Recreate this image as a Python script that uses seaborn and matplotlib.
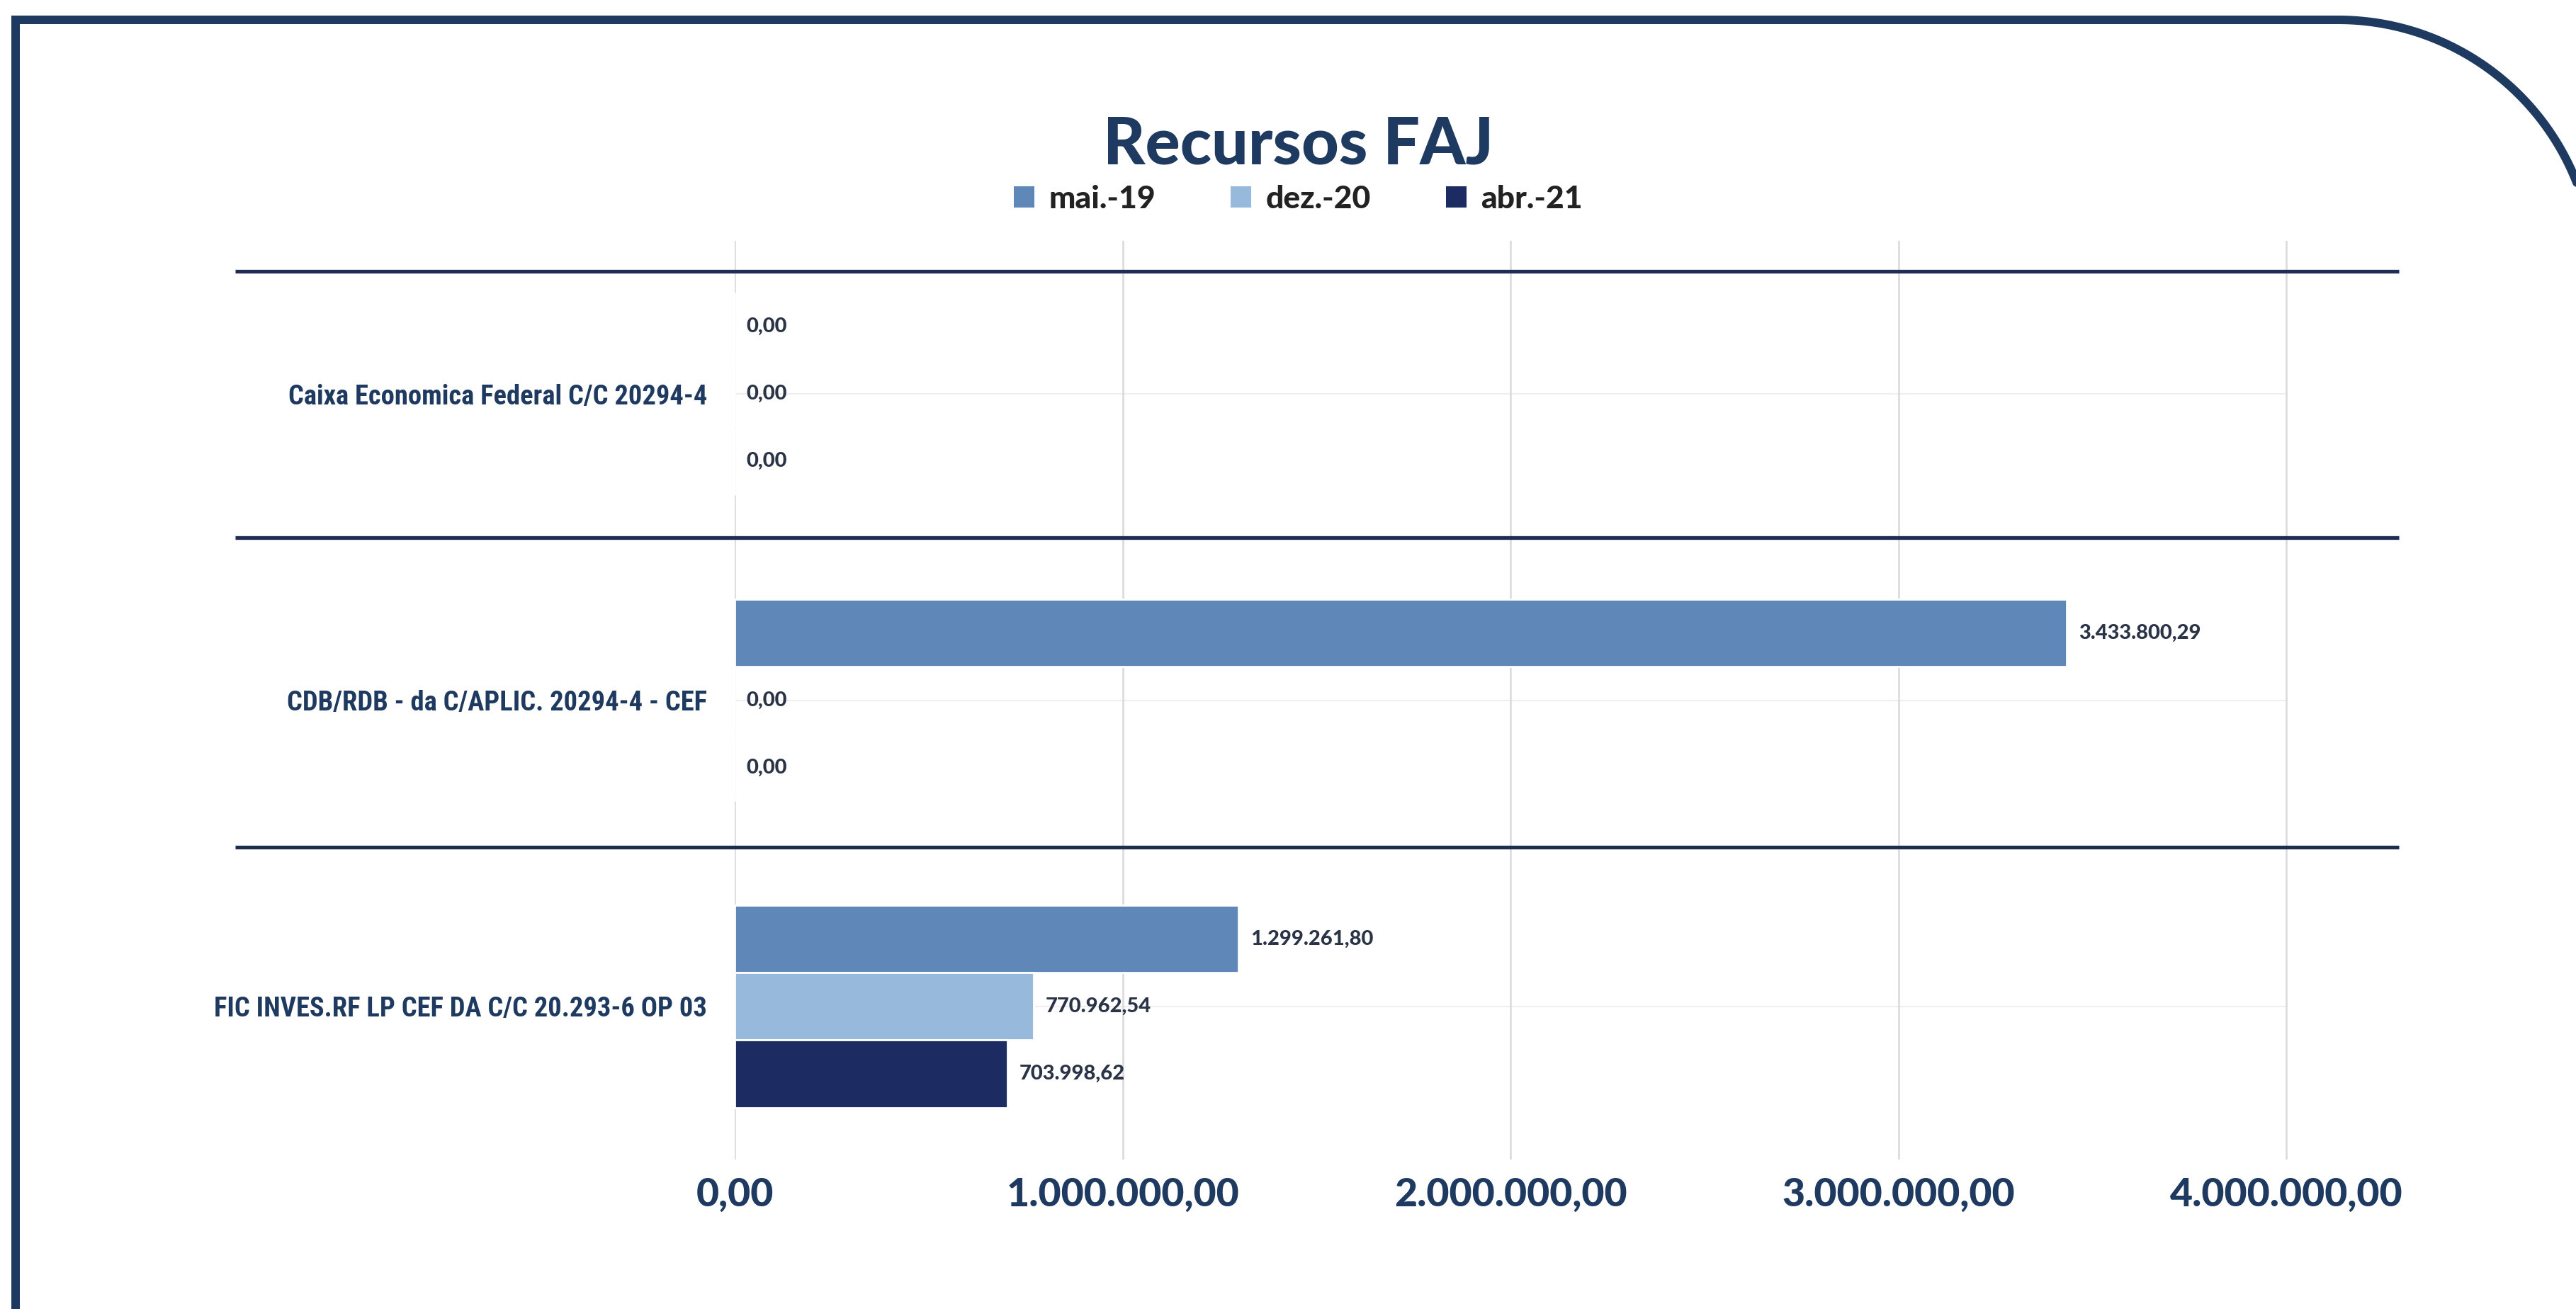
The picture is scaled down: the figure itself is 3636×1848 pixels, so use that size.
import numpy as np
import pandas as pd
import matplotlib
matplotlib.use("Agg")
import matplotlib.pyplot as plt
from matplotlib.patches import Patch
import seaborn as sns

# === Data ===
categories = ["Caixa Economica Federal C/C 20294-4",
              "CDB/RDB - da C/APLIC. 20294-4 - CEF",
              "FIC INVES.RF LP CEF DA C/C 20.293-6 OP 03"]
series = ["mai.-19", "dez.-20", "abr.-21"]
mai_19 = [0.00, 3433800.29, 1299261.80]
dez_20 = [0.00, 0.00, 770962.54]
abr_21 = [0.00, 0.00, 703998.62]
x_ticks = [0, 1000000, 2000000, 3000000, 4000000]

colors = ["#5F87B8", "#97B9DC", "#1C2C62"]
navy = "#1F3A60"
line_navy = "#1F2D55"


def br(v):
    # pt-BR number format: 1.234.567,89
    return f"{v:,.2f}".replace(",", "X").replace(".", ",").replace("X", ".")


df = pd.DataFrame({
    "categoria": categories * 3,
    "serie": np.repeat(series, 3),
    "valor": mai_19 + dez_20 + abr_21,
})

# === Figure ===
sns.set_theme(style="white")
plt.rcParams["font.family"] = ["Lato", "DejaVu Sans"]
W, H, DPI = 3636, 1848, 200
fig = plt.figure(figsize=(W / DPI, H / DPI), dpi=DPI)
fig.patch.set_facecolor("white")

ax = fig.add_axes([1037 / W, 1 - 1637 / H, (3386 - 1037) / W, (1637 - 340) / H])
sns.barplot(data=df, x="valor", y="categoria", hue="serie", orient="h",
            palette=colors, width=0.66, saturation=1, legend=False, ax=ax)

ax.set_xlim(0, 4.29e6)
ax.set_ylim(2.5, -0.5)
ax.set_xlabel("")
ax.set_ylabel("")
sns.despine(ax=ax, left=True, bottom=True)

# gridlines
ax.set_xticks(x_ticks)
ax.set_xticklabels([br(v) for v in x_ticks])
ax.grid(axis="x", color="#D9D9D9", linewidth=0.9)
ax.grid(axis="y", visible=False)
ax.hlines(range(len(categories)), 0, x_ticks[-1], color="#EFEFEF", linewidth=0.8, zorder=0)
ax.set_axisbelow(True)

ax.tick_params(axis="x", length=0, pad=9)
ax.tick_params(axis="y", length=0, pad=14)
for lab in ax.get_xticklabels():
    lab.set_fontsize(20)
    lab.set_fontweight("black")
    lab.set_color(navy)
for lab in ax.get_yticklabels():
    lab.set_family(["Liberation Sans Narrow", "Roboto Condensed", "Open Sans Condensed", "Lato"])
    lab.set_fontsize(14)
    lab.set_fontweight("bold")
    lab.set_color(navy)

# fit the condensed-looking category labels to the reference width
fig.canvas.draw()
renderer = fig.canvas.get_renderer()
first = ax.get_yticklabels()[0]
scale = 591 / first.get_window_extent(renderer).width
for lab in ax.get_yticklabels():
    lab.set_fontsize(14 * min(scale, 1.0))

# group separators
for yy in [-0.4, 0.47, 1.48]:
    ax.plot([-0.30, 1.0], [yy, yy], transform=ax.get_yaxis_transform(),
            clip_on=False, color=line_navy, linewidth=1.9, solid_capstyle="butt")

# value labels
for cont, vals in zip(ax.containers, [mai_19, dez_20, abr_21]):
    ax.bar_label(cont, labels=[br(v) for v in vals], padding=6,
                 fontsize=10.5, fontweight="black", color="#2B3447")

# title + legend
fig.text(0.504, 0.889, "Recursos FAJ", ha="center", va="center",
         fontsize=33, fontweight="black", color=navy)
handles = [Patch(facecolor=c, edgecolor="none") for c in colors]
fig.legend(handles, series, ncol=3, loc="center", bbox_to_anchor=(0.504, 0.848),
           frameon=False, handlelength=0.65, handleheight=0.65, handletextpad=0.45,
           columnspacing=2.4, prop={"size": 16, "weight": "black"}, labelcolor="#222222")

# === Border with rounded top-right corner ===
bx = fig.add_axes([0, 0, 1, 1], zorder=-1)
bx.set_xlim(0, W)
bx.set_ylim(H, 0)
bx.axis("off")
R, x0, y0, xc = 362, 22, 28, 3300
t = np.linspace(-np.pi / 2, 0, 100)
path_x = np.concatenate([[x0, x0, xc], xc + R * np.cos(t), [xc + R]])
path_y = np.concatenate([[H + 20, y0, y0], y0 + R + R * np.sin(t), [H + 20]])
bx.plot(path_x, path_y, color=navy, linewidth=12 / DPI * 72,
        solid_joinstyle="miter", clip_on=False)

fig.savefig("out.png", dpi=DPI, facecolor="white")
